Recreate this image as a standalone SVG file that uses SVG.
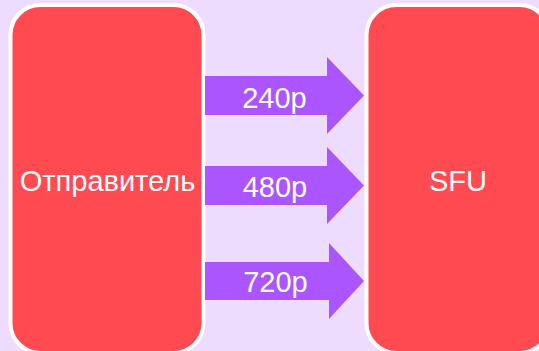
<svg xmlns="http://www.w3.org/2000/svg" width="539" height="351" viewBox="0 0 539 351">
  <style>
    .box { fill: #ff4a51; stroke: #ffffff; stroke-width: 4; }
    .arrow { fill: #ab55ff; }
    .label { font-family: "Liberation Sans", Arial, sans-serif; font-size: 29px; fill: #ffffff; text-anchor: middle; }
  </style>
  <rect width="539" height="351" fill="#eedcff"/>
  <g id="sender">
    <rect class="box" x="10.5" y="5" width="193" height="348" rx="30" ry="30"/>
    <text class="label" x="107.5" y="191">Отправитель</text>
  </g>
  <g id="sfu">
    <rect class="box" x="366.5" y="5" width="183" height="348" rx="30" ry="30"/>
    <text class="label" x="458" y="191">SFU</text>
  </g>
  <g id="connectors">
    <g id="stream-240p">
      <polygon class="arrow" points="205,76 327,76 327,57 364,95.5 327,134 327,115 205,115"/>
      <text class="label" x="274.5" y="107.5">240p</text>
    </g>
    <g id="stream-480p">
      <polygon class="arrow" points="205,166 327,166 327,147 364,185.5 327,224 327,205 205,205"/>
      <text class="label" x="275" y="197">480p</text>
    </g>
    <g id="stream-720p">
      <polygon class="arrow" points="205,262 329,262 329,243 364,281 329,319 329,300 205,300"/>
      <text class="label" x="275.5" y="292">720p</text>
    </g>
  </g>
</svg>
